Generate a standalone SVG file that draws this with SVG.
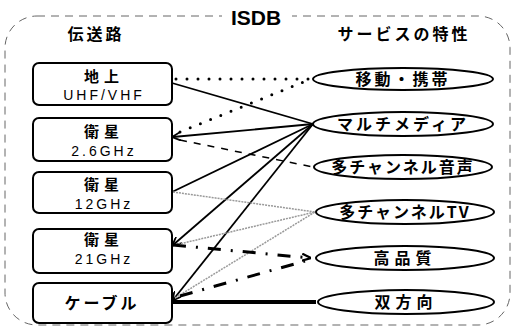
<svg xmlns="http://www.w3.org/2000/svg" width="514" height="330" viewBox="0 0 514 330">
<style>
text{font-family:"Noto Sans CJK JP","Liberation Sans",sans-serif;fill:#000;text-anchor:middle}
.box{fill:#fff;stroke:#000;stroke-width:2}
.ell{fill:#fff;stroke:#000;stroke-width:2}
.t{font-size:16px;font-weight:bold}
.tb{font-size:15px;font-weight:bold;letter-spacing:5px}
.lat{font-family:"Liberation Sans",sans-serif;font-size:14px;letter-spacing:3px}
.solid{stroke:#000;stroke-width:1.8;fill:none}
.dot{stroke:#000;stroke-width:3;stroke-linecap:round;stroke-dasharray:0 11;fill:none}
.dash{stroke:#000;stroke-width:1.5;stroke-dasharray:7 7;fill:none}
.gray{stroke:#999;stroke-width:1.5;stroke-dasharray:2 1;fill:none}
.dd{stroke:#000;stroke-width:3;stroke-dasharray:13 10 2 10;fill:none}
.thick{stroke:#000;stroke-width:4;fill:none}
</style>
<defs>
<marker id="ah" viewBox="0 0 10 10" refX="9" refY="5" markerWidth="5" markerHeight="5" orient="auto" markerUnits="strokeWidth">
<path d="M0,0 L10,5 L0,10" fill="none" stroke="#000" stroke-width="2"/>
</marker>
<marker id="ah2" viewBox="0 0 10 10" refX="9" refY="5" markerWidth="3" markerHeight="3" orient="auto" markerUnits="strokeWidth">
<path d="M0,1 L10,5 L0,9" fill="none" stroke="#000" stroke-width="2.5"/>
</marker>
</defs>
<rect width="514" height="330" fill="#fff"/>
<g id="frame">
<rect x="5" y="16" width="505" height="309" rx="32" fill="none" stroke="#666" stroke-width="1" stroke-dasharray="8 6"/>
<rect x="222" y="4" width="70" height="24" fill="#fff"/>
<text x="256" y="25" style="font-family:'Liberation Sans',sans-serif;font-size:21px;font-weight:bold">ISDB</text>
</g>
<g id="headers">
<text x="96" y="40" style="font-size:16px;font-weight:bold;letter-spacing:3px">伝送路</text>
<text x="404" y="40" style="font-size:16px;font-weight:bold;letter-spacing:3px">サービスの特性</text>
</g>
<g id="connectors">
<line class="dot" x1="176" y1="79" x2="311" y2="79"/>
<line class="dot" x1="180" y1="132" x2="311" y2="79"/>
<line class="solid" x1="172" y1="83" x2="313" y2="124"/>
<line class="solid" x1="313" y1="124" x2="173" y2="137" marker-end="url(#ah)"/>
<line class="dash" x1="180" y1="140" x2="313" y2="167"/>
<line class="solid" x1="313" y1="124" x2="172" y2="192"/>
<line class="solid" x1="313" y1="124" x2="173" y2="245" marker-end="url(#ah)"/>
<line class="solid" x1="313" y1="124" x2="173" y2="300" marker-end="url(#ah)"/>
<line class="gray" x1="173" y1="192" x2="315" y2="212"/>
<line class="gray" x1="175" y1="245" x2="315" y2="212"/>
<line class="gray" x1="175" y1="298" x2="315" y2="212"/>
<line class="dd" x1="173" y1="245" x2="310" y2="258" marker-end="url(#ah2)"/>
<line class="dd" x1="180" y1="296" x2="305" y2="261"/>
<line class="thick" x1="172" y1="302" x2="316" y2="302"/>
</g>
<g id="n-chijo">
<rect class="box" x="33" y="63" width="139" height="42" rx="6"/>
<text class="tb" x="104" y="82">地上</text>
<text class="lat" x="104" y="100">UHF/VHF</text>
</g>
<g id="n-eisei26">
<rect class="box" x="33" y="118" width="139" height="43" rx="6"/>
<text class="tb" x="104" y="137">衛星</text>
<text class="lat" x="104" y="156">2.6GHz</text>
</g>
<g id="n-eisei12">
<rect class="box" x="33" y="172" width="139" height="41" rx="6"/>
<text class="tb" x="104" y="190">衛星</text>
<text class="lat" x="104" y="209">12GHz</text>
</g>
<g id="n-eisei21">
<rect class="box" x="33" y="229" width="139" height="44" rx="6"/>
<text class="tb" x="104" y="245">衛星</text>
<text class="lat" x="104" y="264">21GHz</text>
</g>
<g id="n-cable">
<rect class="box" x="33" y="283" width="139" height="40" rx="6"/>
<text class="t" x="102" y="309" style="letter-spacing:3px">ケーブル</text>
</g>
<g id="s-mobile">
<ellipse class="ell" cx="403" cy="79" rx="90" ry="11"/>
<text class="t" x="403" y="85" style="letter-spacing:3px">移動・携帯</text>
</g>
<g id="s-multimedia">
<ellipse class="ell" cx="403" cy="124" rx="90" ry="12"/>
<text class="t" x="403" y="130" style="letter-spacing:3px">マルチメディア</text>
</g>
<g id="s-audio">
<ellipse class="ell" cx="403" cy="167" rx="89" ry="12"/>
<text class="t" x="403" y="173" style="letter-spacing:2px">多チャンネル音声</text>
</g>
<g id="s-tv">
<ellipse class="ell" cx="405" cy="212" rx="89" ry="12"/>
<text class="t" x="405" y="218" style="letter-spacing:2px">多チャンネルTV</text>
</g>
<g id="s-hq">
<ellipse class="ell" cx="405" cy="258" rx="89" ry="12"/>
<text class="t" x="405" y="264" style="letter-spacing:5px">高品質</text>
</g>
<g id="s-bidir">
<ellipse class="ell" cx="406" cy="302" rx="88" ry="12"/>
<text class="t" x="406" y="308" style="letter-spacing:5px">双方向</text>
</g>
</svg>
